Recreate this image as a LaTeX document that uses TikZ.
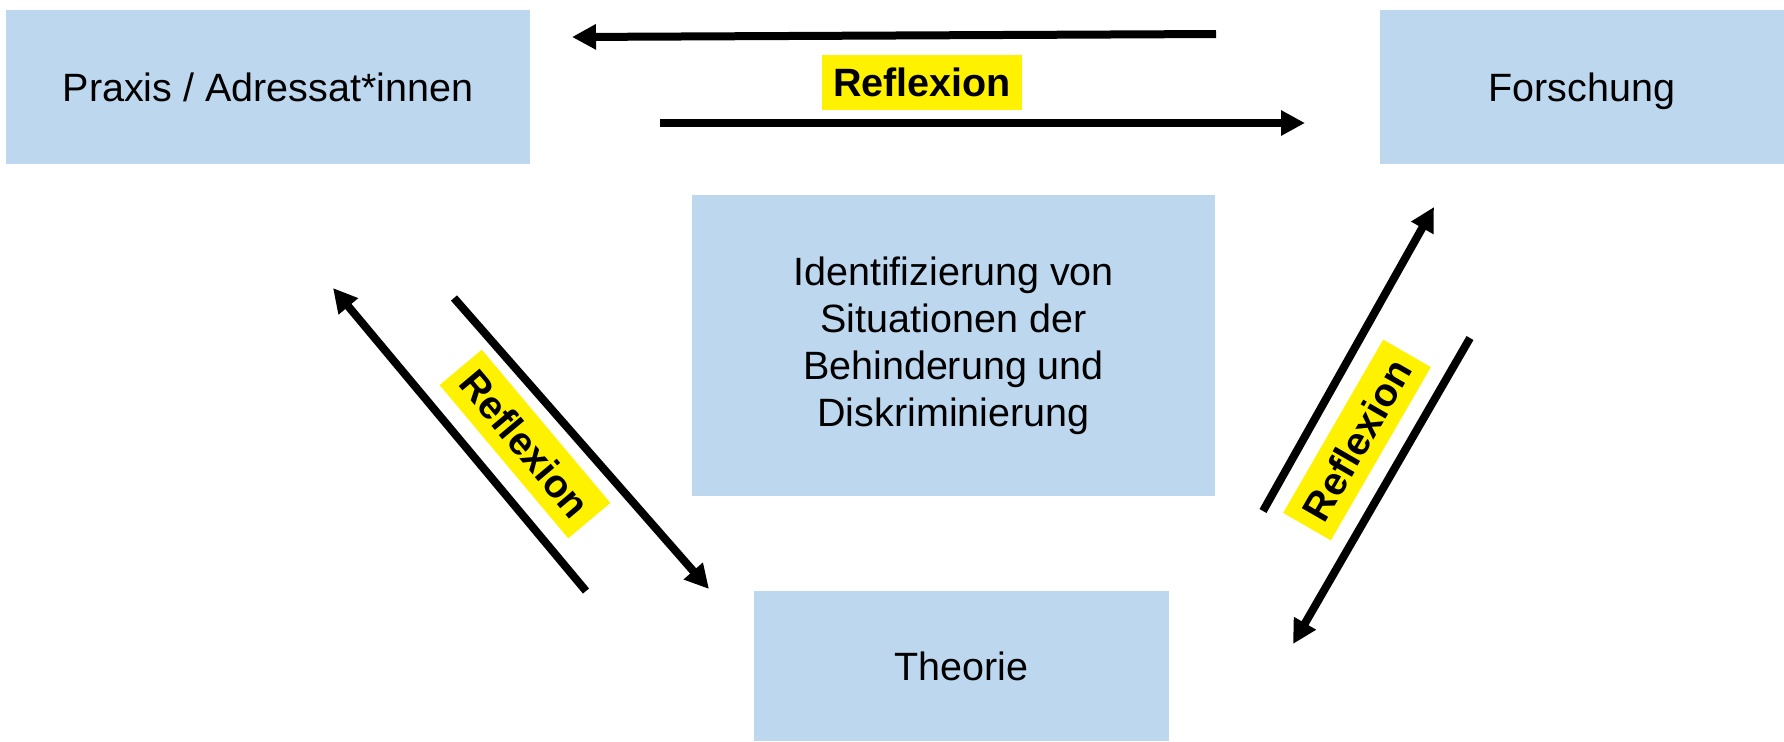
\documentclass[tikz,border=0pt]{standalone}
\usepackage{fontspec}
\setmainfont{Liberation Sans}
\usetikzlibrary{arrows.meta}
\definecolor{boxblue}{HTML}{BDD7EE}
\begin{document}
\begin{tikzpicture}[x=0.5pt,y=-0.5pt,
  box/.style={fill=boxblue, inner sep=0pt, align=center, font=\fontsize{19.75}{23.5}\selectfont},
  oneline/.style={text height=14.1pt, text depth=0pt},
  refl/.style={fill=yellow, inner sep=0pt, minimum width=100pt, minimum height=27.5pt, font=\fontsize{19.75}{23.5}\selectfont\bfseries},
  arr/.style={line width=4pt, -{Triangle[length=12pt,width=12pt]}}]
\useasboundingbox (0,0) rectangle (1784,741);
% boxes
\node[box, oneline, minimum width=262pt, minimum height=77pt] (praxis) at (268,87) {Praxis / Adressat*innen};
\node[box, oneline, minimum width=202pt, minimum height=77pt] (forschung) at (1582,87) {Forschung};
\node[box, minimum width=261.5pt, minimum height=150.5pt] (ident) at (953.5,345.5) {Identifizierung von\\Situationen der\\Behinderung und\\Diskriminierung};
\node[box, oneline, minimum width=207.5pt, minimum height=75pt] (theorie) at (961.5,666) {Theorie};
% labels
\node[refl] (rtop) at (922,82) {Reflexion};
\node[refl, rotate=-50] (rleft) at (525,444) {Reflexion};
\node[refl, rotate=60] (rright) at (1357,440) {Reflexion};
% arrow end points
\coordinate (a1s) at (1216,34);
\coordinate (a1e) at (572,37);
\coordinate (a2s) at (660,123);
\coordinate (a2e) at (1305,123);
\coordinate (a3s) at (586,591);
\coordinate (a3e) at (333,288);
\coordinate (a4s) at (454,298);
\coordinate (a4e) at (709,589);
\coordinate (a5s) at (1263,511);
\coordinate (a5e) at (1434,207);
\coordinate (a6s) at (1470,338);
\coordinate (a6e) at (1293,644);
% arrows
\draw[arr] (a1s) -- (a1e);
\draw[arr] (a2s) -- (a2e);
\draw[arr] (a3s) -- (a3e);
\draw[arr] (a4s) -- (a4e);
\draw[arr] (a5s) -- (a5e);
\draw[arr] (a6s) -- (a6e);
\end{tikzpicture}
\end{document}
